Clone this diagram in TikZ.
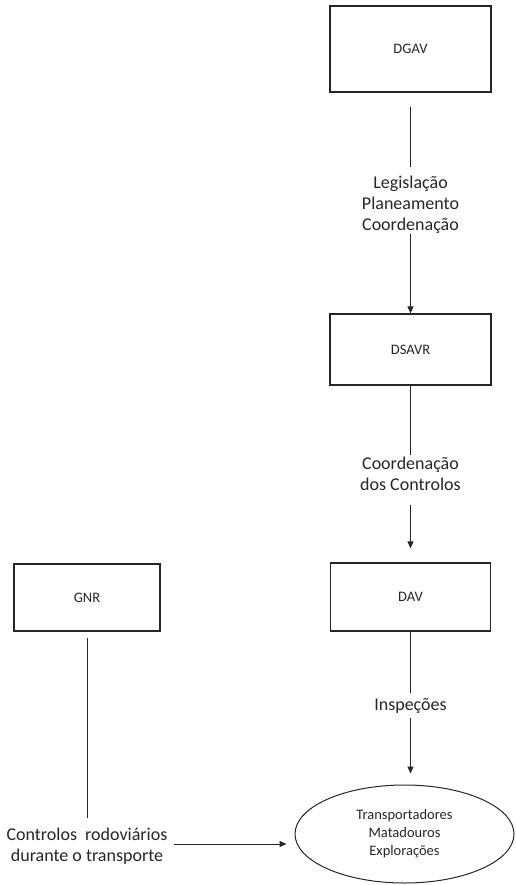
\documentclass[tikz,border=0pt]{standalone}
\usepackage{fontspec}
\setmainfont{Carlito}
\usetikzlibrary{arrows.meta,shapes.geometric}
\begin{document}
\begin{tikzpicture}[x=1pt,y=1pt,
  box/.style={draw=black!85, line width=1.3pt, rectangle, inner sep=0pt, font=\fontsize{14.5}{17}\selectfont, text=black!85},
  lbl/.style={inner sep=0pt, align=center, font=\fontsize{18}{21}\selectfont, text=black!85},
  conn/.style={draw=black!85, line width=1pt},
  arr/.style={conn, -{Triangle[length=7pt,width=6pt]}}
]
\useasboundingbox (0,0) rectangle (516,-885);
\node[box, minimum width=161pt, minimum height=86pt] (dgav) at (410.5,-49) {DGAV};
\node[box, minimum width=161pt, minimum height=71pt] (dsavr) at (410.5,-349.5) {DSAVR};
\node[box, minimum width=160pt, minimum height=68pt] (dav) at (410.5,-597) {DAV};
\node[box, minimum width=146pt, minimum height=67pt] (gnr) at (87,-597.5) {GNR};
\node[draw=black!85, line width=1pt, ellipse, minimum width=219pt, minimum height=98pt, inner sep=0pt,
      align=center, font=\fontsize{14.5}{18}\selectfont, text=black!85] (ell) at (404.5,-834) {Transportadores\\Matadouros\\Explorações};
\node[lbl] (lab1) at (410.5,-205) {Legislação\\Planeamento\\Coordenação};
\node[lbl] (lab2) at (410.5,-474) {Coordenação\\dos Controlos};
\node[lbl] (lab3) at (410.5,-706) {Inspeções};
\node[lbl] (lab4) at (87,-846) {Controlos\ \ rodoviários\\durante o transporte};
\draw[conn, shorten <=14pt, shorten >=9pt] (dgav.south) -- (lab1.north);
\draw[arr] (lab1.south) -- (dsavr.north);
\draw[conn, shorten >=2pt] (dsavr.south) -- (lab2.north);
\draw[arr, shorten <=14pt, shorten >=14pt] (lab2.south) -- (dav.north);
\draw[conn, shorten >=5pt] (dav.south) -- (lab3.north);
\draw[arr, shorten <=4pt, shorten >=11pt] (lab3.south) -- (lab3.south |- ell.north);
\draw[conn, shorten <=6pt, shorten >=10pt] (gnr.south) -- (lab4.north);
\draw[arr, shorten <=6pt, shorten >=8pt] ([yshift=2pt]lab4.east) -- ([yshift=2pt]lab4.east -| ell.west);
\end{tikzpicture}
\end{document}
